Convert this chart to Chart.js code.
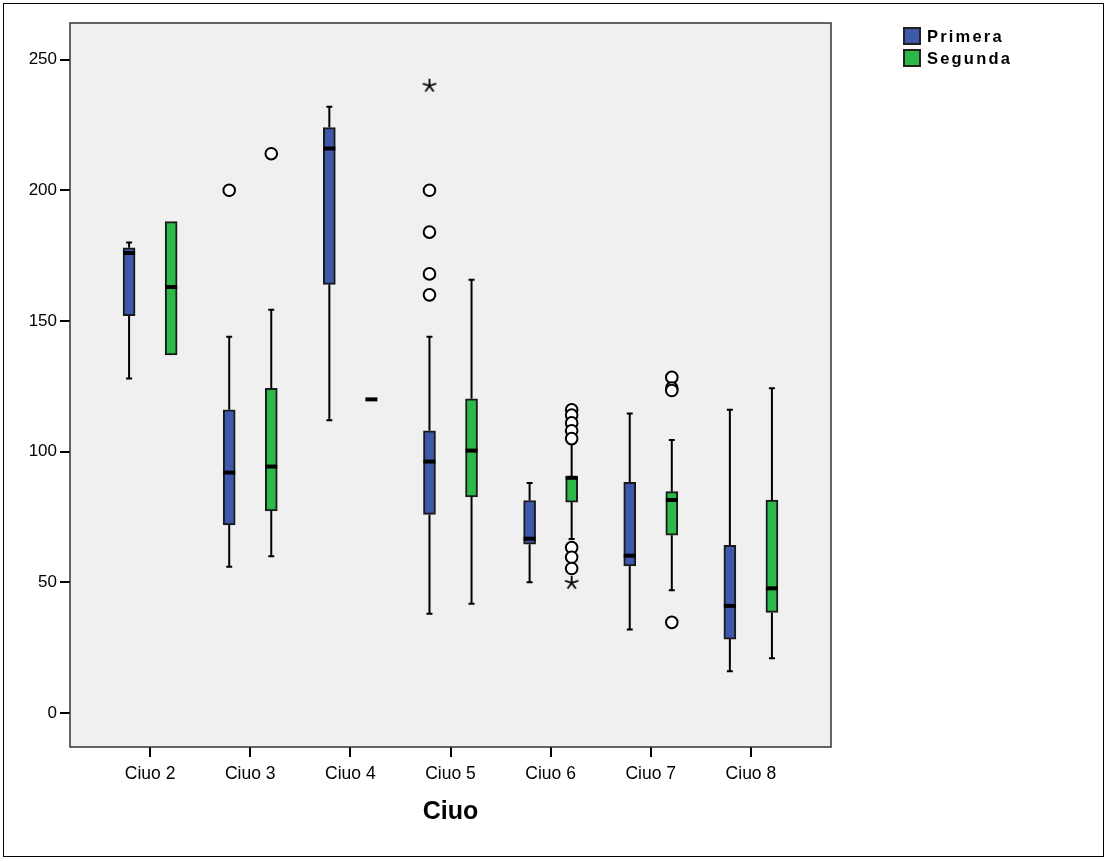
<!DOCTYPE html>
<html>
<head>
<meta charset="utf-8">
<script src="https://cdn.jsdelivr.net/npm/chart.js@4.4.1/dist/chart.umd.min.js"></script>
<style>
    body { margin: 0; background: #fff; font-family: "Liberation Sans", Arial, sans-serif; }
    #wrap { position: relative; width: 1108px; height: 861px; }
    #frame { position: absolute; left: 3px; top: 3px; width: 1099px; height: 852px; border: 1.5px solid #000; pointer-events: none; }
    #legend { position: absolute; left: 903px; top: 25px; }
    .leg-row { display: flex; align-items: center; height: 22px; }
    .leg-box { width: 14px; height: 14px; border: 2px solid #222; margin-right: 6px; }
    .leg-text { font-weight: bold; font-size: 16.5px; letter-spacing: 2.2px; color: #000; }
</style>
</head>
<body>
<div id="wrap">
    <canvas id="boxChart"></canvas>
    <div id="legend"></div>
    <div id="frame"></div>
</div>
<script>
const categories = ['Ciuo 2', 'Ciuo 3', 'Ciuo 4', 'Ciuo 5', 'Ciuo 6', 'Ciuo 7', 'Ciuo 8'];
const yTicks = [0, 50, 100, 150, 200, 250];

// Primera: five-number summary per occupation group
const primeraMin = [128, 56, 112, 38, 50, 32, 16];
const primeraQ1  = [152, 72, 164, 76, 64.6, 56.3, 28.3];
const primeraMed = [176, 92, 216, 96.2, 66.7, 60.2, 41];
const primeraQ3  = [178, 116, 224, 108, 81.3, 88.3, 64.2];
const primeraMax = [180, 144, 232, 144, 88, 114.6, 116];

// Segunda
const segundaMin = [137, 60, 120, 41.8, 66.6, 47, 21];
const segundaQ1  = [137, 77.3, 120, 82.7, 80.7, 68, 38.5];
const segundaMed = [163, 94.3, 120, 100.4, 90, 81.5, 47.7];
const segundaQ3  = [188, 124.2, 120, 120.2, 90.5, 84.7, 81.5];
const segundaMax = [188, 154.3, 120, 165.8, 103, 104.5, 124.3];

// outliers (o) and extremes (*) as [category index, value]
const primeraOutliers = [[1, 200], [3, 200], [3, 184], [3, 168], [3, 160]];
const primeraExtremes = [[3, 240]];
const segundaOutliers = [[1, 214], [4, 116], [4, 114], [4, 111], [4, 108], [4, 105],
                         [4, 63.3], [4, 59.6], [4, 55.3], [5, 128.4], [5, 124.3], [5, 123.4], [5, 34.7]];
const segundaExtremes = [[4, 49.8]];

const BLUE = '#3e58ac';
const GREEN = '#2db84a';
const SHIFT = 0.21;

function boxData(q1, q3, shift) {
    return q1.map((v, i) => ({ x: i + shift, y: [v, q3[i]] }));
}
function pointData(list, shift) {
    return list.map(p => ({ x: p[0] + shift, y: p[1] }));
}

// little asterisk used for the extreme values
function starImage() {
    const c = document.createElement('canvas');
    c.width = 16; c.height = 16;
    const g = c.getContext('2d');
    g.strokeStyle = '#000';
    g.lineWidth = 1.8;
    g.beginPath();
    for (let k = 0; k < 5; k++) {
        const a = (-90 + k * 72) * Math.PI / 180;
        g.moveTo(8, 8);
        g.lineTo(8 + Math.cos(a) * 7, 8 + Math.sin(a) * 7);
    }
    g.stroke();
    return c;
}
const star = starImage();

const summaries = [
    { min: primeraMin, q1: primeraQ1, med: primeraMed, q3: primeraQ3, max: primeraMax },
    { min: segundaMin, q1: segundaQ1, med: segundaMed, q3: segundaQ3, max: segundaMax }
];

const boxPlot = {
    id: 'boxPlot',
    beforeDraw(chart) {
        const { ctx, chartArea: a } = chart;
        ctx.save();
        ctx.fillStyle = '#f0f0f0';
        ctx.fillRect(a.left, a.top, a.right - a.left, a.bottom - a.top);
        ctx.restore();
    },
    beforeDatasetsDraw(chart) {
        // whiskers with end caps
        const { ctx } = chart;
        const ys = chart.scales.y;
        ctx.save();
        ctx.strokeStyle = '#000';
        ctx.lineWidth = 2;
        summaries.forEach((s, d) => {
            chart.getDatasetMeta(d).data.forEach((el, j) => {
                const x = el.x;
                const segs = [[s.q3[j], s.max[j]], [s.q1[j], s.min[j]]];
                segs.forEach(([from, to]) => {
                    if (from === to) return;
                    ctx.beginPath();
                    ctx.moveTo(x, ys.getPixelForValue(from));
                    ctx.lineTo(x, ys.getPixelForValue(to));
                    ctx.moveTo(x - 3, ys.getPixelForValue(to));
                    ctx.lineTo(x + 3, ys.getPixelForValue(to));
                    ctx.stroke();
                });
            });
        });
        ctx.restore();
    },
    afterDatasetsDraw(chart) {
        const { ctx, chartArea: a } = chart;
        const ys = chart.scales.y;
        ctx.save();
        ctx.strokeStyle = '#000';
        ctx.lineWidth = 4;
        summaries.forEach((s, d) => {
            chart.getDatasetMeta(d).data.forEach((el, j) => {
                const y = ys.getPixelForValue(s.med[j]);
                ctx.beginPath();
                ctx.moveTo(el.x - el.width / 2, y);
                ctx.lineTo(el.x + el.width / 2, y);
                ctx.stroke();
            });
        });
        ctx.strokeStyle = '#333';
        ctx.lineWidth = 1.5;
        ctx.strokeRect(a.left, a.top, a.right - a.left, a.bottom - a.top);
        ctx.restore();
    }
};

const ctx = document.getElementById('boxChart').getContext('2d');
const chart = new Chart(ctx, {
    type: 'bar',
    data: {
        datasets: [
            { label: 'Primera', data: boxData(primeraQ1, primeraQ3, -SHIFT), backgroundColor: BLUE },
            { label: 'Segunda', data: boxData(segundaQ1, segundaQ3, SHIFT), backgroundColor: GREEN },
            { type: 'scatter', data: pointData(primeraOutliers, -SHIFT), pointStyle: 'circle' },
            { type: 'scatter', data: pointData(segundaOutliers, SHIFT), pointStyle: 'circle' },
            { type: 'scatter', data: pointData(primeraExtremes, -SHIFT), pointStyle: star },
            { type: 'scatter', data: pointData(segundaExtremes, SHIFT), pointStyle: star }
        ]
    },
    options: {
        responsive: true,
        maintainAspectRatio: false,
        animation: false,
        layout: { padding: { left: 0, right: 277, top: 23, bottom: 0 } },
        datasets: {
            bar: { barThickness: 12, grouped: false, borderColor: '#1a1a1a', borderWidth: 2, borderSkipped: false },
            scatter: { pointRadius: 5.8, backgroundColor: '#fff', borderColor: '#000', borderWidth: 2 }
        },
        plugins: { legend: { display: false }, tooltip: { enabled: false } },
        scales: {
            x: {
                type: 'linear',
                min: -0.8,
                max: 6.8,
                offset: false,
                afterFit: s => { s.height = 114; },
                afterBuildTicks: s => { s.ticks = categories.map((c, i) => ({ value: i })); },
                ticks: {
                    callback: v => categories[v],
                    color: '#000',
                    padding: 7,
                    maxRotation: 0,
                    font: { family: 'Liberation Sans', size: 17.5 }
                },
                grid: { offset: false, drawOnChartArea: false, tickLength: 10, color: '#000', lineWidth: 2 },
                border: { display: false },
                title: {
                    display: true,
                    text: 'Ciuo',
                    color: '#000',
                    padding: { top: 0, bottom: 34 },
                    font: { family: 'Liberation Sans', size: 25, weight: 'bold' }
                }
            },
            y: {
                min: -13,
                max: 264,
                afterFit: s => { s.width = 70; },
                afterBuildTicks: s => { s.ticks = yTicks.map(v => ({ value: v })); },
                ticks: { color: '#000', padding: 3, font: { family: 'Liberation Sans', size: 17 } },
                grid: { drawOnChartArea: false, tickLength: 10, color: '#000', lineWidth: 2 },
                border: { display: false }
            }
        }
    },
    plugins: [boxPlot]
});

// legend built from the two box series
const legend = document.getElementById('legend');
chart.data.datasets.slice(0, 2).forEach(ds => {
    const row = document.createElement('div');
    row.className = 'leg-row';
    row.innerHTML = `<div class="leg-box" style="background:${ds.backgroundColor}"></div><span class="leg-text">${ds.label}</span>`;
    legend.appendChild(row);
});
</script>
</body>
</html>
